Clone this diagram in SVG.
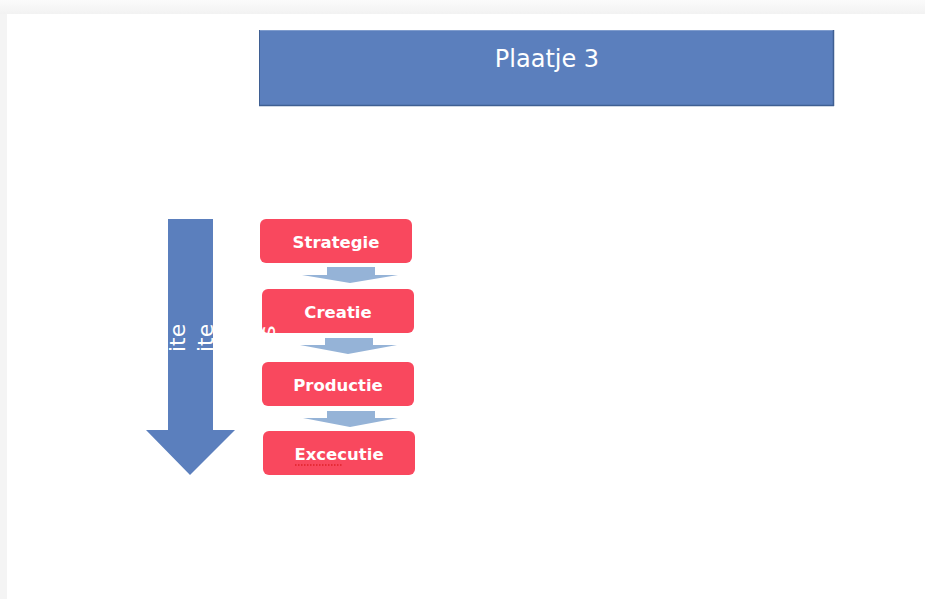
<svg xmlns="http://www.w3.org/2000/svg" width="925" height="599" viewBox="0 0 925 599">
  <defs>
    <linearGradient id="topEdge" x1="0" y1="0" x2="0" y2="1">
      <stop offset="0" stop-color="#fbfbfb"/>
      <stop offset="1" stop-color="#f2f2f2"/>
    </linearGradient>
    <style>
      .step rect { fill: #f9485e; }
      .step text { font-family: "DejaVu Sans", Verdana, sans-serif; font-weight: bold; font-size: 16.5px; fill: #ffffff; text-anchor: middle; }
      .flow { fill: #95b3d7; }
      .vtext { font-family: "DejaVu Sans", Verdana, sans-serif; font-size: 22px; fill: #ffffff; }
    </style>
  </defs>

  <!-- page background -->
  <rect x="0" y="0" width="925" height="599" fill="#f4f4f4"/>
  <rect x="0" y="0" width="925" height="14" fill="url(#topEdge)"/>
  <rect x="7" y="14" width="918" height="585" fill="#ffffff"/>

  <!-- title -->
  <g id="title">
    <rect x="259" y="30" width="575" height="76" fill="#5b7fbd"/>
    <line x1="259" y1="30.5" x2="834" y2="30.5" stroke="#7f9ccd" stroke-width="1"/>
    <line x1="833.5" y1="30" x2="833.5" y2="106" stroke="#3f5f92" stroke-width="1.5"/>
    <line x1="259" y1="105.5" x2="834" y2="105.5" stroke="#3f5f92" stroke-width="1.5"/>
    <line x1="259.5" y1="30" x2="259.5" y2="106" stroke="#3f5f92" stroke-width="1"/>
    <text x="547" y="67" font-family="DejaVu Sans, Verdana, sans-serif" font-size="24" fill="#ffffff" text-anchor="middle">Plaatje 3</text>
  </g>

  <!-- big down arrow -->
  <g id="timeArrow">
    <polygon points="168,219 213,219 213,430 235,430 190,475 146,430 168,430" fill="#5b7fbd"/>
    <text class="vtext" transform="translate(185,352) rotate(-90)">ite</text>
    <text class="vtext" transform="translate(213,352) rotate(-90)">ite</text>
  </g>

  <!-- steps -->
  <g id="strategie" class="step">
    <rect x="260" y="219" width="152" height="44" rx="6"/>
    <text x="336" y="248">Strategie</text>
  </g>
  <g id="creatie" class="step">
    <rect x="262" y="289" width="152" height="44" rx="6"/>
    <text x="338" y="318">Creatie</text>
    <text class="vtext" style="font-weight:normal;font-size:22px;text-anchor:start" transform="translate(275,337) rotate(-90)">s</text>
  </g>
  <g id="productie" class="step">
    <rect x="262" y="362" width="152" height="44" rx="6"/>
    <text x="338" y="391">Productie</text>
  </g>
  <g id="excecutie" class="step">
    <rect x="263" y="431" width="152" height="44" rx="6"/>
    <text x="339" y="460">Excecutie</text>
    <line x1="295" y1="465" x2="342" y2="465" stroke="#e0202a" stroke-width="1.5" stroke-dasharray="1.5,1.5"/>
  </g>

  <!-- connectors -->
  <g id="connectors">
    <polygon class="flow" points="327,267 375,267 375,275 398,275 350,283 302,275 327,275"/>
    <polygon class="flow" points="325,338 373,338 373,345 397,345 348,354 300,345 325,345"/>
    <polygon class="flow" points="327,411 375,411 375,418 398,418 350,427 303,418 327,418"/>
  </g>
</svg>
